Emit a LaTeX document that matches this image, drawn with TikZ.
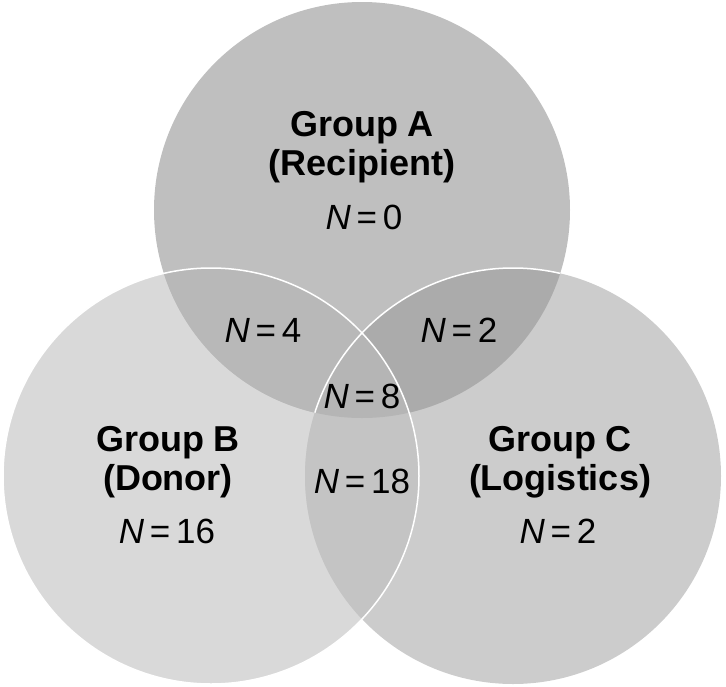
\documentclass[tikz,border=0pt]{standalone}
\usepackage{fontspec}
\setmainfont{Liberation Sans}
\definecolor{grpA}{RGB}{191,191,191}
\definecolor{grpB}{RGB}{217,217,217}
\definecolor{grpC}{RGB}{204,204,204}
\definecolor{grpAB}{RGB}{184,184,184}
\definecolor{grpAC}{RGB}{171,171,171}
\definecolor{grpBC}{RGB}{196,196,196}
\definecolor{grpABC}{RGB}{181,181,181}
\newcommand{\cnt}[1]{\textit{N}\,=\,#1}
\newcommand{\rad}{208pt}

\begin{document}
\begin{tikzpicture}[
    x=1pt, y=-1pt,
    title/.style={font=\fontsize{36}{39}\selectfont\bfseries, align=center},
    count/.style={font=\fontsize{35}{40}\selectfont},
    rim/.style={draw=white, line width=1.5pt},
]
\useasboundingbox (0,0) rectangle (726,686);
\coordinate (cA) at (362,210);
\coordinate (cB) at (211,476);
\coordinate (cC) at (513,476);

% Single groups
\fill[grpB] (cB) circle[radius=\rad];
\fill[grpC] (cC) circle[radius=\rad];
\fill[grpA] (cA) circle[radius=\rad];
% Overlaps with A
\begin{scope}
  \clip (cA) circle[radius=\rad];
  \fill[grpAB] (cB) circle[radius=\rad];
  \fill[grpAC] (cC) circle[radius=\rad];
\end{scope}
% Overlap B and C, and all three
\begin{scope}
  \clip (cB) circle[radius=\rad];
  \fill[grpBC] (cC) circle[radius=\rad];
  \clip (cA) circle[radius=\rad];
  \fill[grpABC] (cC) circle[radius=\rad];
\end{scope}
% White rims
\draw[rim] (cB) circle[radius=\rad];
\begin{scope}
  \clip (cA) circle[radius=\rad];
  \draw[rim] (cC) circle[radius=\rad];
\end{scope}

% Labels
\node[title] (labA) at (362,147) {Group A\\(Recipient)};
\node[count] (nA) at (364,217) {\cnt{0}};
\node[title] (labB) at (168,462) {Group B\\(Donor)};
\node[count] (nB) at (167,531) {\cnt{16}};
\node[title] (labC) at (560,462) {Group C\\(Logistics)};
\node[count] (nC) at (558,531) {\cnt{2}};
\node[count] (nAB) at (263,330) {\cnt{4}};
\node[count] (nAC) at (459,330) {\cnt{2}};
\node[count] (nABC) at (362,396) {\cnt{8}};
\node[count] (nBC) at (362,481) {\cnt{18}};
\end{tikzpicture}
\end{document}
